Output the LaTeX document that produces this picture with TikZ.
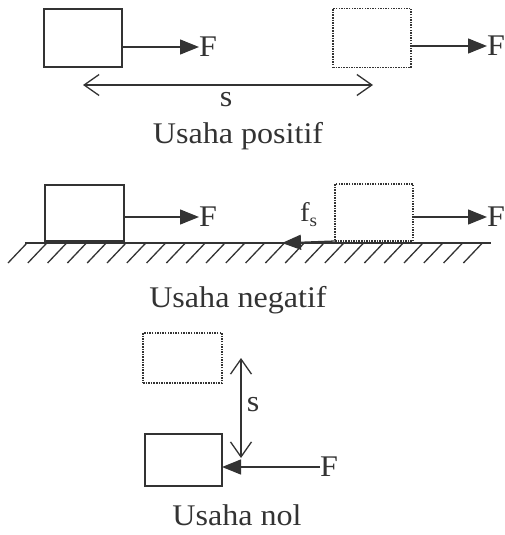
\documentclass[tikz,border=0pt]{standalone}
\usepackage{fontspec}
\setmainfont{Liberation Serif}[FakeStretch=1.07]
\usetikzlibrary{arrows.meta}
\begin{document}
\begin{tikzpicture}[x=1pt,y=-1pt,
  lbl/.style={font=\fontsize{30}{36}\selectfont, text=black!80, inner sep=0pt, outer sep=0pt},
  ln/.style={draw=black!80, line width=1.3pt},
  blockbox/.style={ln, inner sep=0pt, outer sep=0pt},
  dotbox/.style={blockbox, dash pattern=on 1.5pt off 1.1pt},
  force/.style={ln, -{Triangle[length=19pt,width=15pt]}},
  disp/.style={draw=black!80, line width=1.3pt, {Straight Barb[length=15pt,width=21pt]}-{Straight Barb[length=15pt,width=21pt]}}]
\useasboundingbox (0,0) rectangle (504,535);
% ---- Usaha positif ----
\node[blockbox, minimum width=78pt, minimum height=58pt] (b1) at (83,38) {};
\node[lbl, anchor=west] (F1) at (199,47) {F};
\draw[force] (b1.east |- F1.west) -- (F1.west);
\node[dotbox, minimum width=78pt, minimum height=59pt] (b2) at (372,38) {};
\node[lbl, anchor=west] (F2) at (487,46) {F};
\draw[force] (b2.east |- F2.west) -- (F2.west);
\coordinate (sL) at (83,85);
\coordinate (sR) at (373,85);
\draw[disp] (sL) -- (sR);
\node[lbl] (s1) at (226,100) {s};
\node[lbl, anchor=base] (t1) at (238,143) {Usaha positif};
% ---- Usaha negatif ----
\node[blockbox, minimum width=79pt, minimum height=56pt] (b3) at (84.5,213) {};
\node[lbl, anchor=west] (F3) at (199,217) {F};
\draw[force] (b3.east |- F3.west) -- (F3.west);
\node[dotbox, minimum width=78pt, minimum height=57pt] (b4) at (374,212.5) {};
\node[lbl, anchor=west] (F4) at (487,217) {F};
\draw[force] (b4.east |- F4.west) -- (F4.west);
\coordinate (g1) at (25,243);
\coordinate (g2) at (491,243);
\draw[ln] (g1) -- (g2);
\foreach \i in {0,...,23} \draw[ln] (27+19.8*\i,243) -- ++(-19,20);
\coordinate (fsTip) at (282,243);
\draw[force] (b4.south west) -- (fsTip);
\node[lbl, anchor=base west, font=\fontsize{27}{30}\selectfont] (fs) at (300,221) {f\raisebox{-5pt}{\fontsize{18}{18}\selectfont s}};
\node[lbl, anchor=base] (t2) at (238,307) {Usaha negatif};
% ---- Usaha nol ----
\node[dotbox, minimum width=79pt, minimum height=50pt] (b5) at (182.5,358) {};
\node[blockbox, minimum width=77pt, minimum height=52pt] (b6) at (183.5,460) {};
\coordinate (vT) at (241,358);
\coordinate (vB) at (241,458);
\draw[disp] (vT) -- (vB);
\node[lbl] (s2) at (253,405) {s};
\node[lbl, anchor=west] (F5) at (320,467) {F};
\draw[force] (F5.west) -- (b6.east |- F5.west);
\node[lbl, anchor=base] (t3) at (237,525) {Usaha nol};
\end{tikzpicture}
\end{document}
